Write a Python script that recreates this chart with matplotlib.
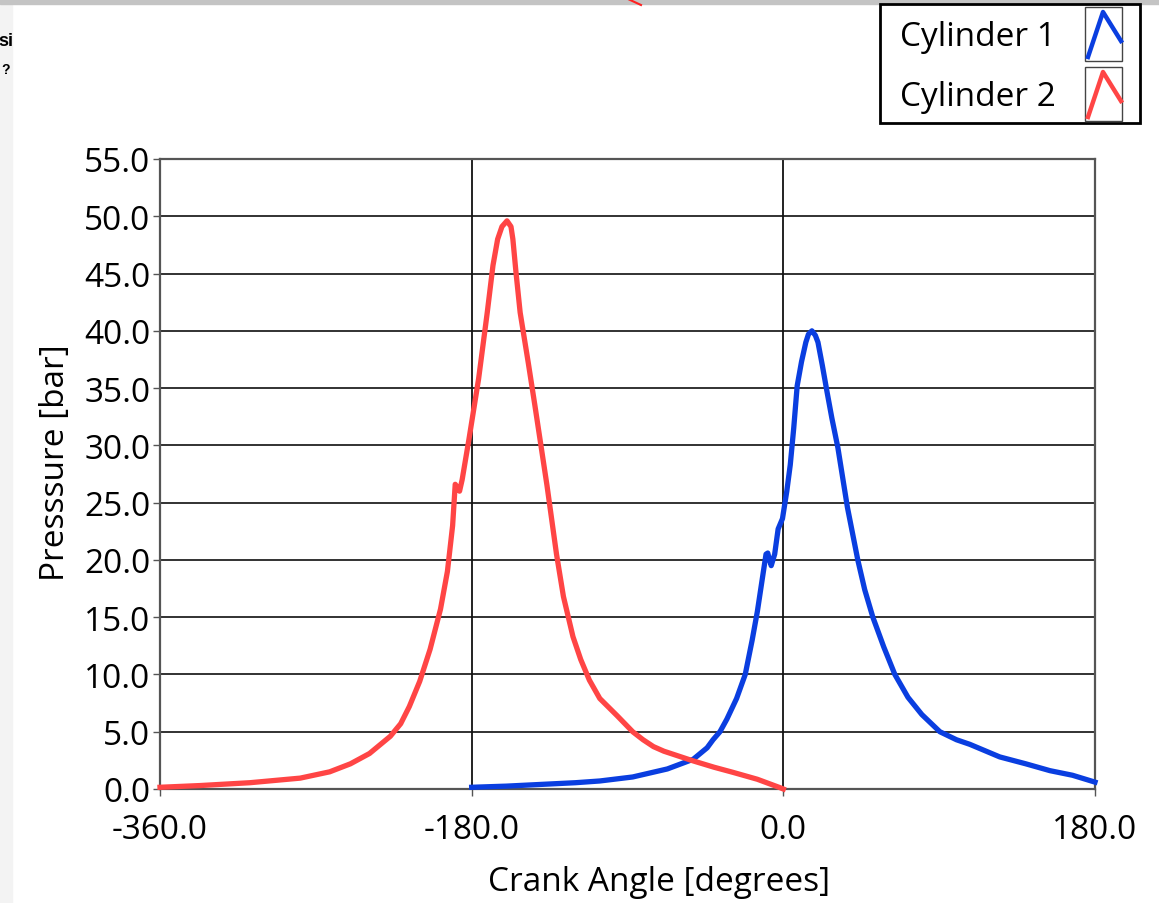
import matplotlib
matplotlib.use("Agg")
import matplotlib.pyplot as plt
from matplotlib.patches import Rectangle
from matplotlib.lines import Line2D

plt.rcParams['font.family'] = ['Open Sans', 'DejaVu Sans']

# Cylinder 1 (blue)
cyl1_angle = [-180, -160, -140, -120, -106, -87, -67, -52, -44, -40.6, -36.6, -32.6, -27, -22, -18, -15,
              -12, -10, -9, -8, -7, -6, -5, -3, -0.5, 2, 4, 6, 8, 10.5, 13, 14.5, 16.5, 18.5, 20,
              22.5, 25.2, 28, 31.5, 37, 43, 47, 51.7, 58, 64.4, 72, 80, 90.4, 100, 107.7, 125,
              140, 154, 167, 180]
cyl1_pres = [0.15, 0.25, 0.4, 0.55, 0.7, 1.05, 1.75, 2.6, 3.6, 4.3, 5.0, 6.1, 7.9, 10.0, 13.0, 15.5,
             18.5, 20.5, 20.6, 20.0, 19.5, 20.0, 20.5, 22.7, 23.6, 26.0, 28.3, 31.5, 35.2, 37.3,
             39.0, 39.7, 40.0, 39.6, 39.0, 37.0, 34.7, 32.4, 29.8, 24.6, 20.0, 17.4, 15.0, 12.4,
             10.0, 8.0, 6.5, 5.0, 4.3, 3.9, 2.8, 2.2, 1.6, 1.2, 0.6]

# Cylinder 2 (red)
cyl2_angle = [-360, -337, -308, -279, -262, -250, -239, -227, -221, -216, -210, -204, -198, -194,
              -191, -189.5, -188.5, -187, -185.5, -181.6, -176, -171, -167.7, -165, -162.5, -159.6,
              -157.3, -156.2, -154.4, -152, -147.3, -143.5, -136.5, -131, -127, -121.5, -117,
              -112, -106, -96, -87, -81, -75, -69, -63, -52, -40, -29, -15, -2, 0]
cyl2_pres = [0.15, 0.3, 0.55, 0.95, 1.5, 2.2, 3.1, 4.6, 5.7, 7.2, 9.4, 12.2, 15.7, 19.0,
             23.0, 26.6, 26.4, 26.0, 27.0, 30.5, 35.8, 41.6, 45.7, 48.0, 49.1, 49.6,
             49.1, 48.0, 45.1, 41.6, 37.2, 33.5, 26.5, 20.5, 16.8, 13.3, 11.3,
             9.5, 7.9, 6.4, 5.0, 4.3, 3.7, 3.3, 3.0, 2.45, 1.9, 1.45, 0.85, 0.12, 0.0]

x_ticks = [-360, -180, 0, 180]
y_ticks = [0, 5, 10, 15, 20, 25, 30, 35, 40, 45, 50, 55]

blue = '#0a3ee0'
red = '#ff4545'
fs = 24

W, H = 1159, 904
fig = plt.figure(figsize=(W / 100, H / 100), dpi=100)

# screenshot edges
fig.patches.append(Rectangle((0, 0), 12 / W, 1, transform=fig.transFigure, color='#f3f3f3', zorder=0))
fig.patches.append(Rectangle((0, 1 - 5 / H), 1, 5 / H, transform=fig.transFigure, color='#c4c4c4', zorder=0))
fig.lines.append(Line2D([628 / W, 641 / W], [1, 1 - 6 / H], transform=fig.transFigure, color='#ff2020', lw=1.5))
fig.text(13 / W, 1 - 42 / H, 'si', ha='right', va='center', fontsize=13, fontweight='bold', family='Liberation Sans')
fig.text(1 / W, 1 - 70 / H, '?', ha='left', va='center', fontsize=10, fontweight='bold', family='Liberation Sans')

ax = fig.add_axes([160 / W, 1 - 790 / H, (1095 - 160) / W, (790 - 160) / H])
ax.plot(cyl1_angle, cyl1_pres, color=blue, lw=3.8, solid_joinstyle='round', zorder=3, clip_on=False)
ax.plot(cyl2_angle, cyl2_pres, color=red, lw=3.8, solid_joinstyle='round', zorder=3, clip_on=False)

ax.set_xlim(-360, 180)
ax.set_ylim(0, 55)
ax.set_xticks(x_ticks)
ax.set_xticklabels([f'{v:.1f}' for v in x_ticks])
ax.set_yticks(y_ticks)
ax.set_yticklabels([f'{v:.1f}' for v in y_ticks])

for v in y_ticks:
    ax.axhline(v, color='#222222', lw=1.3, zorder=1)
for v in [-180, 0]:
    ax.axvline(v, color='#111111', lw=1.3, zorder=1)

for s in ax.spines.values():
    s.set_color('#555555')
    s.set_linewidth(1.6)

ax.tick_params(axis='both', length=5, width=1, color='#555555', labelsize=fs, pad=2)
ax.tick_params(axis='x', pad=12)
ax.set_xlabel('Crank Angle [degrees]', fontsize=fs)
ax.xaxis.set_label_coords(0.534, -0.12)
ax.set_ylabel('Presssure [bar]', fontsize=fs)
ax.yaxis.set_label_coords(-0.094, 0.52)

# legend box drawn by hand
fig.patches.append(Rectangle((880 / W, 1 - 124 / H), 260 / W, 119 / H, transform=fig.transFigure,
                             facecolor='white', edgecolor='black', lw=2, zorder=5))
for i, (name, col) in enumerate([('Cylinder 1', blue), ('Cylinder 2', red)]):
    top = 8 + i * 60
    fig.patches.append(Rectangle((1085 / W, 1 - (top + 54) / H), 37 / W, 54 / H, transform=fig.transFigure,
                                 facecolor='white', edgecolor='#444444', lw=1, zorder=6))
    fig.lines.append(Line2D([1088 / W, 1103 / W, 1121 / W],
                            [1 - (top + 50) / H, 1 - (top + 5) / H, 1 - (top + 34) / H],
                            transform=fig.transFigure, color=col, lw=3.2, zorder=7))
    fig.text(900 / W, 1 - (top + 30) / H, name, ha='left', va='center', fontsize=fs, zorder=7)

fig.savefig('out.png', dpi=100)
